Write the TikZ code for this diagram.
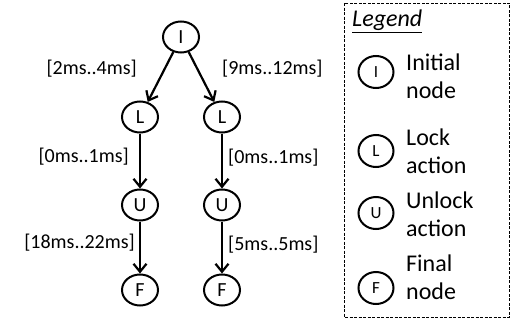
\documentclass[tikz,border=0pt]{standalone}
\usepackage{fontspec}
\setmainfont{Carlito}
\usetikzlibrary{arrows.meta,shapes.geometric}
\tikzset{
  state/.style={draw,ellipse,line width=2pt,inner sep=0pt,minimum width=36pt,minimum height=31pt,font=\fontsize{20}{22}\selectfont},
  keystate/.style={state,minimum width=35pt,minimum height=32pt,font=\fontsize{17}{20}\selectfont},
  delay/.style={inner sep=0pt,font=\fontsize{20}{22}\selectfont},
  keytext/.style={anchor=west,inner sep=0pt,align=left,font=\fontsize{24}{28}\selectfont},
  flow/.style={line width=2.2pt,-{Straight Barb[length=8pt,width=13pt,line width=2.2pt]}}
}
\begin{document}
\begin{tikzpicture}[x=1pt,y=-1pt]
\useasboundingbox (0,0) rectangle (512,324);

\node[state](i) at(181,37) {I};
\node[state](la) at(140,117) {L};
\node[state](lb) at(222,117) {L};
\node[state](ua) at(140,205) {U};
\node[state](ub) at(222,205) {U};
\node[state](fa) at(140,290) {F};
\node[state](fb) at(222,290) {F};

\draw[flow] (i) -- (la);
\draw[flow] (i) -- (lb);
\draw[flow] (la) -- (ua);
\draw[flow] (lb) -- (ub);
\draw[flow] (ua) -- (fa);
\draw[flow] (ub) -- (fb);

\node[delay,anchor=east](d1) at(137,69) {[2ms..4ms]};
\node[delay,anchor=west](d2) at(222,69) {[9ms..12ms]};
\node[delay,anchor=east](d3) at(129,157) {[0ms..1ms]};
\node[delay,anchor=west](d4) at(228,158) {[0ms..1ms]};
\node[delay,anchor=east](d5) at(135,243) {[18ms..22ms]};
\node[delay,anchor=west](d6) at(228,245) {[5ms..5ms]};

\draw[dashed,line width=0.9pt,dash pattern=on 3pt off 1.5pt] (344,3) rectangle (509,317);
\node[anchor=base west,inner sep=0pt](leg) at(352,27) {\fontsize{24}{28}\selectfont\itshape\underline{Legend}};

\node[keystate](ki) at(376,72) {I};
\node[keystate](kl) at(376,151) {L};
\node[keystate](ku) at(376,213) {U};
\node[keystate](kf) at(376,288) {F};

\node[keytext](ti) at(406,76) {Initial\\node};
\node[keytext](tl) at(406,151) {Lock\\action};
\node[keytext](tu) at(406,214) {Unlock\\action};
\node[keytext](tf) at(406,277) {Final\\node};

\end{tikzpicture}
\end{document}
